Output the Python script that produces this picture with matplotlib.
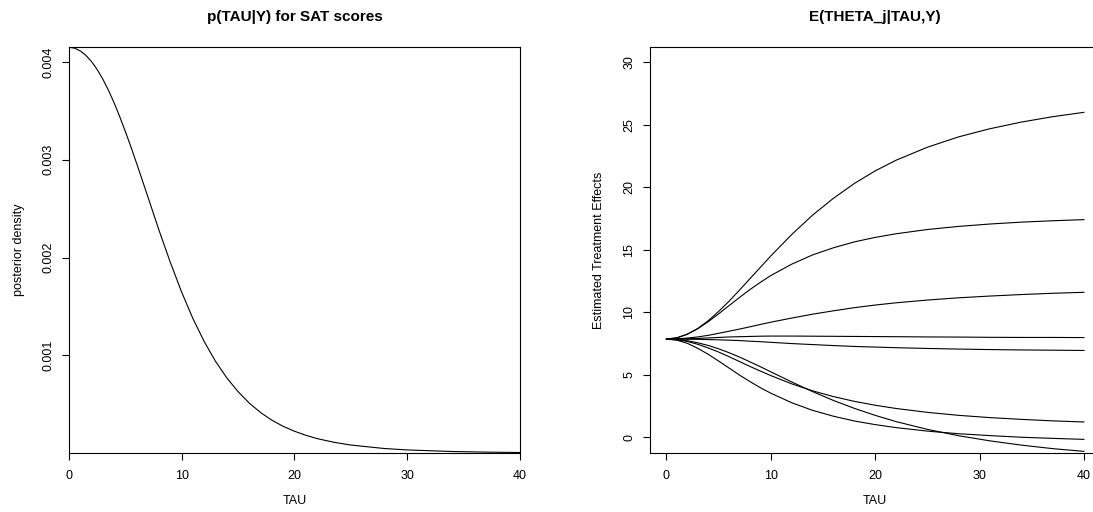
import matplotlib
matplotlib.use("Agg")
import matplotlib.pyplot as plt

plt.rcParams['font.family'] = ['Liberation Sans', 'DejaVu Sans']

# posterior density of tau
tau_dens = [0, 0.5, 1, 1.5, 2, 2.5, 3, 3.5, 4, 4.5, 5, 5.5, 6, 6.5, 7, 8, 9, 10,
            11, 12, 13, 14, 15, 16, 17, 18, 19, 20, 21, 22, 23.5, 25, 28, 30, 34,
            37, 40]
dens = [0.004150, 0.004141, 0.004113, 0.004067, 0.004004, 0.003923, 0.003825,
        0.003711, 0.003583, 0.003441, 0.003289, 0.003130, 0.002963, 0.002792,
        0.002620, 0.002275, 0.001948, 0.001645, 0.001375, 0.001140, 0.000939,
        0.000770, 0.000629, 0.000511, 0.000415, 0.000337, 0.000274, 0.000224,
        0.000183, 0.000149, 0.000111, 0.0000826, 0.0000471, 0.0000327,
        0.0000166, 0.0000102, 0.0000064]

# conditional posterior means of the school effects
tau_grid = [0, 1, 2, 3, 4, 5, 6, 7, 8, 9, 10, 12, 14, 16, 18, 20, 22, 25, 28,
            31, 34, 37, 40]
school_A = [7.87, 7.97, 8.26, 8.72, 9.34, 10.08, 10.90, 11.79, 12.70, 13.61, 14.52,
            16.23, 17.78, 19.13, 20.31, 21.32, 22.17, 23.21, 24.04, 24.69, 25.22,
            25.65, 26.00]
school_B = [7.87, 7.88, 7.90, 7.92, 7.96, 8.00, 8.04, 8.06, 8.08, 8.10, 8.11, 8.11,
            8.10, 8.09, 8.08, 8.07, 8.06, 8.04, 8.03, 8.01, 8.00, 8.00, 7.99]
school_C = [7.87, 7.84, 7.74, 7.57, 7.36, 7.09, 6.78, 6.43, 6.05, 5.66, 5.25, 4.44,
            3.67, 2.96, 2.33, 1.77, 1.27, 0.65, 0.14, -0.27, -0.61, -0.89, -1.11]
school_D = [7.87, 7.87, 7.86, 7.85, 7.83, 7.81, 7.78, 7.75, 7.70, 7.66, 7.61, 7.51,
            7.43, 7.35, 7.28, 7.23, 7.18, 7.12, 7.07, 7.03, 7.00, 6.98, 6.96]
school_E = [7.87, 7.78, 7.53, 7.13, 6.65, 6.11, 5.55, 4.99, 4.47, 3.98, 3.54, 2.78,
            2.17, 1.70, 1.32, 1.03, 0.79, 0.51, 0.30, 0.15, 0.02, -0.07, -0.15]
school_F = [7.87, 7.82, 7.68, 7.45, 7.16, 6.83, 6.46, 6.07, 5.68, 5.31, 4.95, 4.29,
            3.73, 3.27, 2.89, 2.58, 2.32, 2.01, 1.77, 1.59, 1.45, 1.33, 1.24]
school_G = [7.87, 7.97, 8.26, 8.70, 9.26, 9.89, 10.55, 11.20, 11.83, 12.41, 12.95,
            13.86, 14.60, 15.17, 15.64, 16.00, 16.29, 16.63, 16.88, 17.07, 17.22,
            17.33, 17.42]
school_H = [7.87, 7.89, 7.95, 8.04, 8.17, 8.33, 8.50, 8.67, 8.85, 9.04, 9.22, 9.55,
            9.86, 10.13, 10.38, 10.59, 10.77, 10.99, 11.17, 11.31, 11.43, 11.53, 11.61]
schools = [school_A, school_B, school_C, school_D, school_E, school_F, school_G, school_H]

W, H = 1093, 512
fig = plt.figure(figsize=(W / 100, H / 100), dpi=100)

ax1 = fig.add_axes([69 / W, 1 - 452.5 / H, 450.8 / W, 405.2 / H])
ax2 = fig.add_axes([649.8 / W, 1 - 452.5 / H, 450.8 / W, 405.2 / H])


def style(ax):
    for sp in ax.spines.values():
        sp.set_linewidth(0.8)
    ax.tick_params(length=5.3, width=0.8, labelsize=9, pad=5)
    ax.tick_params(axis='x', pad=7.5)
    ax.tick_params(axis='y', labelrotation=90)
    for lab in ax.get_yticklabels():
        lab.set_va('center')


# left panel
ax1.plot(tau_dens, dens, color='black', linewidth=0.8)
ax1.set_xlim(0, 40)
ax1.set_ylim(min(dens), max(dens))
ax1.set_xticks([0, 10, 20, 30, 40])
ax1.set_yticks([0.001, 0.002, 0.003, 0.004])
ax1.set_yticklabels(['0.001', '0.002', '0.003', '0.004'])
style(ax1)
ax1.set_title('p(TAU|Y) for SAT scores', fontsize=11, fontweight='bold', pad=19)
ax1.set_xlabel('TAU', fontsize=9, labelpad=9)
ax1.set_ylabel('posterior density', fontsize=9, labelpad=13)

# right panel
for vals in schools:
    ax2.plot(tau_grid, vals, color='black', linewidth=0.8)
ax2.set_xlim(-1.6, 41.6)
ax2.set_ylim(-1.2, 31.2)
ax2.set_xticks([0, 10, 20, 30, 40])
ax2.set_yticks([0, 5, 10, 15, 20, 25, 30])
style(ax2)
ax2.set_title('E(THETA_j|TAU,Y)', fontsize=11, fontweight='bold', pad=19)
ax2.set_xlabel('TAU', fontsize=9, labelpad=9)
ax2.set_ylabel('Estimated Treatment Effects', fontsize=9, labelpad=13)

fig.savefig('out.png', dpi=100)
